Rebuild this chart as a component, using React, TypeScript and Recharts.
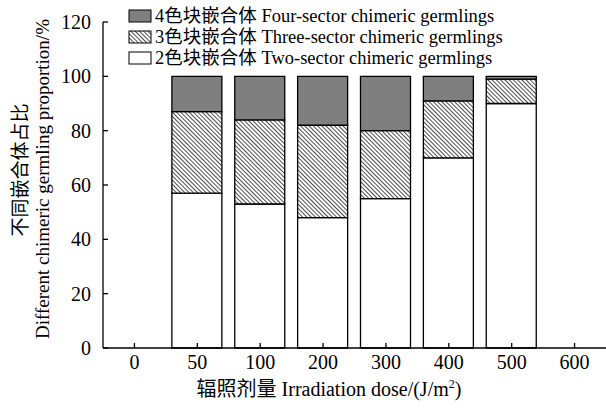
import React from "react";
import { BarChart, Bar, XAxis, YAxis, Label } from "recharts";

const doses = ["0", "50", "100", "200", "300", "400", "500", "600"];
const twoSector = [null, 57, 53, 48, 55, 70, 90, null];
const threeSector = [null, 30, 31, 34, 25, 21, 9, null];
const fourSector = [null, 13, 16, 18, 20, 9, 1, null];
const yTicks = [0, 20, 40, 60, 80, 100, 120];

const data = doses.map((d, i) => ({
  dose: d,
  two: twoSector[i],
  three: threeSector[i],
  four: fourSector[i],
}));

const FONT = "'Liberation Serif', 'Times New Roman', 'Noto Sans CJK SC', serif";

const legendItems = [
  { fill: "#7f7f7f", text: "4色块嵌合体 Four-sector chimeric germlings" },
  { fill: "url(#hatch)", text: "3色块嵌合体 Three-sector chimeric germlings" },
  { fill: "#ffffff", text: "2色块嵌合体 Two-sector chimeric germlings" },
];

function LegendBox() {
  return (
    <svg width={440} height={66} style={{ position: "absolute", left: 126, top: 6, fontFamily: FONT }}>
      {legendItems.map((it, i) => (
        <g key={i} transform={`translate(0, ${i * 21})`}>
          <rect x={3} y={4} width={22} height={12} fill={it.fill} stroke="#000" strokeWidth={1} />
          <text x={29} y={10} fontSize={18.5} dominantBaseline="central" fill="#000">
            {it.text}
          </text>
        </g>
      ))}
    </svg>
  );
}

function YTitle() {
  return (
    <g style={{ fontFamily: FONT }} fill="#000">
      <text x={20} y={170} transform="rotate(-90 20 170)" textAnchor="middle" dominantBaseline="central" fontSize={19}>
        不同嵌合体占比
      </text>
      <text x={42} y={179} transform="rotate(-90 42 179)" textAnchor="middle" dominantBaseline="central" fontSize={19}>
        Different chimeric germling proportion/%
      </text>
    </g>
  );
}

function XTitle() {
  return (
    <text x={329} y={389} textAnchor="middle" dominantBaseline="central" fontSize={20} fill="#000" style={{ fontFamily: FONT }}>
      辐照剂量 Irradiation dose/(J/m<tspan fontSize={12} dy={-5}>2</tspan><tspan dy={5}>)</tspan>
    </text>
  );
}

export default function App() {
  return (
    <div style={{ position: "absolute", left: 0, top: 0, width: 606, height: 409, background: "#fff" }}>
      <BarChart
        width={606}
        height={409}
        data={data}
        margin={{ top: 22, right: 0, bottom: 0, left: 0 }}
        barSize={50}
        style={{ fontFamily: FONT }}
      >
        <defs>
          <pattern id="hatch" width={3} height={3} patternUnits="userSpaceOnUse" patternTransform="rotate(-45)">
            <rect width={3} height={3} fill="#fff" />
            <line x1={0} y1={0} x2={0} y2={3} stroke="#000" strokeWidth={1.4} />
          </pattern>
        </defs>
        <XAxis
          dataKey="dose"
          height={61}
          tickSize={-5}
          tickMargin={12}
          axisLine={{ stroke: "#000", strokeWidth: 1.3 }}
          tickLine={{ stroke: "#000", strokeWidth: 1.3 }}
          tick={{ fill: "#000", fontSize: 20 }}
        >
          <Label content={<XTitle />} />
        </XAxis>
        <YAxis
          width={103}
          domain={[0, 120]}
          ticks={yTicks}
          tickSize={-5}
          tickMargin={17}
          axisLine={{ stroke: "#000", strokeWidth: 1.3 }}
          tickLine={{ stroke: "#000", strokeWidth: 1.3 }}
          tick={{ fill: "#000", fontSize: 20 }}
        >
          <Label content={<YTitle />} />
        </YAxis>
        <Bar dataKey="two" stackId="a" fill="#ffffff" stroke="#000" strokeWidth={1.3} isAnimationActive={false} />
        <Bar dataKey="three" stackId="a" fill="url(#hatch)" stroke="#000" strokeWidth={1.3} isAnimationActive={false} />
        <Bar dataKey="four" stackId="a" fill="#7f7f7f" stroke="#000" strokeWidth={1.3} isAnimationActive={false} />
      </BarChart>
      <LegendBox />
    </div>
  );
}
